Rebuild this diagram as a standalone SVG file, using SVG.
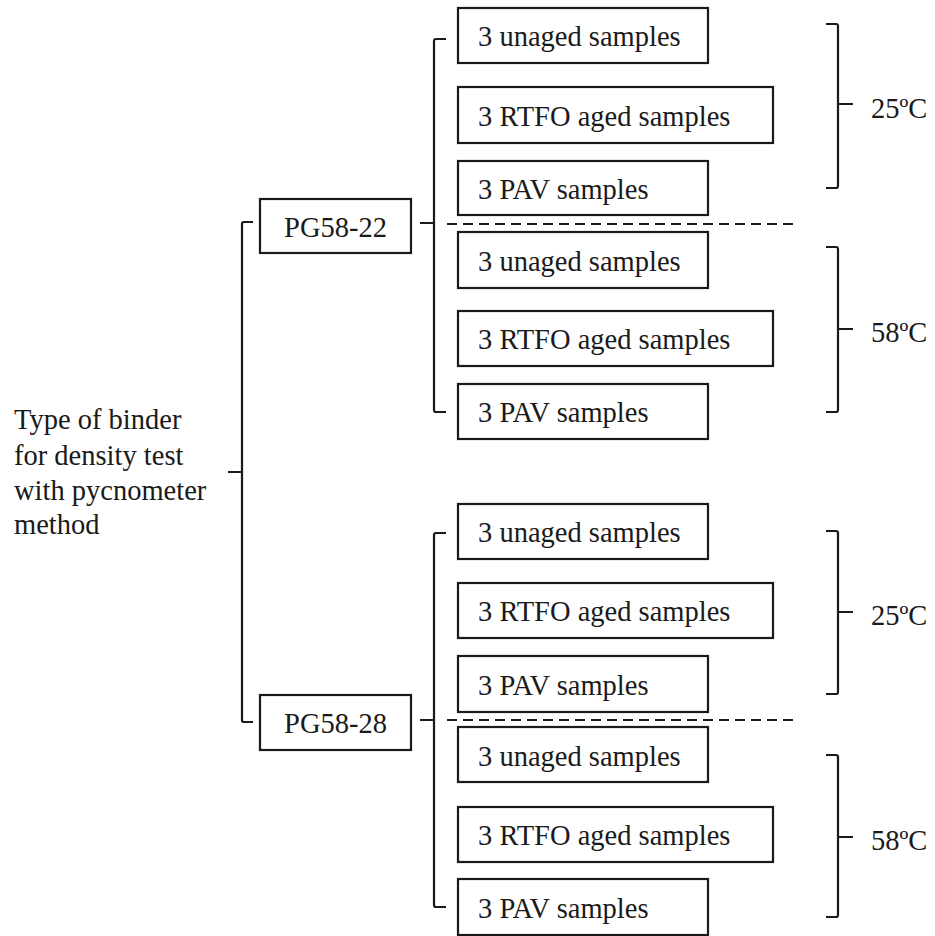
<svg xmlns="http://www.w3.org/2000/svg" width="935" height="936" viewBox="0 0 935 936">
<style>
.box{fill:#fff;stroke:#1a1a1a;stroke-width:2.2}
.t{font-family:"Liberation Serif","Times New Roman",serif;font-size:28.5px;fill:#1a1a1a}
.br{fill:none;stroke:#1a1a1a;stroke-width:2.2;stroke-linejoin:round}
.dash{stroke:#1a1a1a;stroke-width:2.2;stroke-dasharray:10 6}
</style>
<rect width="935" height="936" fill="#fff"/>
<g id="connectors">
  <path class="br" d="M253,222 H244 Q242,222 242,224 V720 Q242,722 244,722 H253 M228,472 H242"/>
  <path class="br" d="M446,39 H436 Q434,39 434,41 V410 Q434,412 436,412 H446 M420,223 H434"/>
  <path class="br" d="M446,533 H436 Q434,533 434,535 V905 Q434,907 436,907 H446 M420,720 H434"/>
  <line class="dash" x1="447" y1="224" x2="797" y2="224"/>
  <line class="dash" x1="447" y1="720" x2="797" y2="720"/>
  <path class="br" d="M826,24 H836 Q838,24 838,26 V186 Q838,188 836,188 H826 M838,104 H853"/>
  <path class="br" d="M826,247 H836 Q838,247 838,249 V410 Q838,412 836,412 H826 M838,329 H853"/>
  <path class="br" d="M826,531 H836 Q838,531 838,533 V692 Q838,694 836,694 H826 M838,612 H853"/>
  <path class="br" d="M826,755 H836 Q838,755 838,757 V915 Q838,917 836,917 H826 M838,837 H853"/>
</g>
<g id="root">
  <text class="t" x="14" y="429">Type of binder</text>
  <text class="t" x="14" y="465">for density test</text>
  <text class="t" x="14" y="500">with pycnometer</text>
  <text class="t" x="14" y="534">method</text>
</g>
<g id="pg5822"><rect class="box" x="260" y="199" width="151" height="54"/><text class="t" x="335.5" y="237" text-anchor="middle">PG58-22</text></g>
<g id="pg5828"><rect class="box" x="260" y="695" width="151" height="55"/><text class="t" x="335.5" y="733" text-anchor="middle">PG58-28</text></g>
<g id="a1"><rect class="box" x="458" y="8" width="250" height="55"/><text class="t" x="478" y="46">3 unaged samples</text></g>
<g id="a2"><rect class="box" x="458" y="87" width="315" height="56"/><text class="t" x="478" y="126">3 RTFO aged samples</text></g>
<g id="a3"><rect class="box" x="458" y="161" width="250" height="54"/><text class="t" x="478" y="199">3 PAV samples</text></g>
<g id="a4"><rect class="box" x="458" y="232" width="250" height="56"/><text class="t" x="478" y="271">3 unaged samples</text></g>
<g id="a5"><rect class="box" x="458" y="311" width="315" height="55"/><text class="t" x="478" y="349">3 RTFO aged samples</text></g>
<g id="a6"><rect class="box" x="458" y="384" width="250" height="55"/><text class="t" x="478" y="422">3 PAV samples</text></g>
<g id="b1"><rect class="box" x="458" y="504" width="250" height="55"/><text class="t" x="478" y="542">3 unaged samples</text></g>
<g id="b2"><rect class="box" x="458" y="583" width="315" height="55"/><text class="t" x="478" y="621">3 RTFO aged samples</text></g>
<g id="b3"><rect class="box" x="458" y="656" width="250" height="56"/><text class="t" x="478" y="695">3 PAV samples</text></g>
<g id="b4"><rect class="box" x="458" y="727" width="250" height="55"/><text class="t" x="478" y="766">3 unaged samples</text></g>
<g id="b5"><rect class="box" x="458" y="807" width="315" height="55"/><text class="t" x="478" y="845">3 RTFO aged samples</text></g>
<g id="b6"><rect class="box" x="458" y="879" width="250" height="56"/><text class="t" x="478" y="918">3 PAV samples</text></g>
<g id="temps">
  <text class="t" x="871" y="118">25ºC</text>
  <text class="t" x="871" y="342">58ºC</text>
  <text class="t" x="871" y="625">25ºC</text>
  <text class="t" x="871" y="850">58ºC</text>
</g>
</svg>
